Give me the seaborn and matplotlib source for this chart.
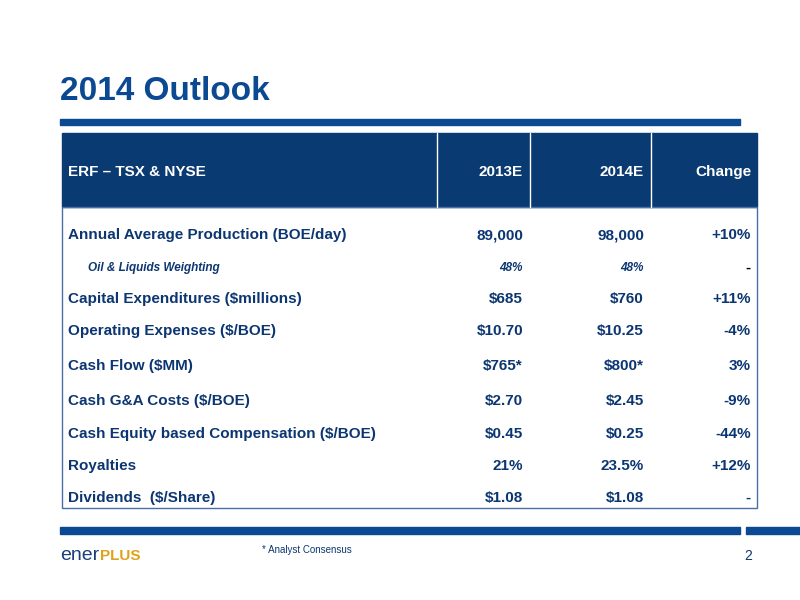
import seaborn as sns
import matplotlib.pyplot as plt
from matplotlib.patches import Rectangle

sns.set_theme(style="white")
plt.rcParams['font.family'] = ['Liberation Sans', 'DejaVu Sans']

# %% data
header = ["ERF \u2013 TSX & NYSE", "2013E", "2014E", "Change"]
labels = ["Annual Average Production (BOE/day)", "Oil & Liquids Weighting",
          "Capital Expenditures ($millions)", "Operating Expenses ($/BOE)",
          "Cash Flow ($MM)", "Cash G&A Costs ($/BOE)",
          "Cash Equity based Compensation ($/BOE)", "Royalties", "Dividends  ($/Share)"]
v2013 = ["89,000", "48%", "$685", "$10.70", "$765*", "$2.70", "$0.45", "21%", "$1.08"]
v2014 = ["98,000", "48%", "$760", "$10.25", "$800*", "$2.45", "$0.25", "23.5%", "$1.08"]
change = ["+10%", "-", "+11%", "-4%", "3%", "-9%", "-44%", "+12%", "-"]
sub_row = [False, True, False, False, False, False, False, False, False]

# %% layout
row_y = [235, 268, 299, 331, 366, 401, 434, 466, 498]
col_x = [523, 644, 751]
navy = "#0A3A72"
blue = "#0B4A92"
text_c = "#0C3672"

fig = plt.figure(figsize=(8, 6), dpi=100)
ax = fig.add_axes([0, 0, 1, 1])
ax.set_xlim(0, 800)
ax.set_ylim(600, 0)
ax.axis("off")

ax.text(60, 91, "2014 Outlook", fontsize=24, fontweight="bold", color=blue, va="center")
ax.add_patch(Rectangle((60, 119), 680, 6, color=blue))

# header block
ax.add_patch(Rectangle((62, 133), 695, 74, color=navy))
for x in [437, 530, 651]:
    ax.plot([x, x], [133, 207], color="white", lw=1)
ax.text(68, 172, header[0], fontsize=11, fontweight="bold", color="white", va="center")
for x, h in zip(col_x, header[1:]):
    ax.text(x, 172, h, fontsize=11, fontweight="bold", color="white", va="center", ha="right")

# body border
ax.add_patch(Rectangle((62, 207), 695, 301, fill=False, edgecolor="#4A6FA5", lw=1))

for y, lab, a, b, c, sub in zip(row_y, labels, v2013, v2014, change, sub_row):
    if sub:
        kw = dict(fontsize=8.5, fontweight="bold", style="italic", color=text_c, va="center")
        ax.text(88, y, lab, **kw)
        ax.text(col_x[0], y, a, ha="right", **kw)
        ax.text(col_x[1], y, b, ha="right", **kw)
        ax.text(col_x[2], y, c, ha="right", fontsize=11, fontweight="bold", color="black", va="center")
    else:
        kw = dict(fontsize=11, fontweight="bold", color=text_c, va="center")
        ax.text(68, y, lab, **kw)
        for x, v in zip(col_x, [a, b, c]):
            ax.text(x, y, v, ha="right", **kw)

# footer
ax.add_patch(Rectangle((60, 527), 680, 7, color=blue))
ax.add_patch(Rectangle((746, 527), 54, 7, color=blue))
ax.text(60, 555, "ener", fontsize=14, color="#1B3F7A", va="center")
ax.text(100, 556, "PLUS", fontsize=11, fontweight="bold", color="#E0A21B", va="center")
ax.text(262, 550, "* Analyst Consensus", fontsize=7, color=text_c, va="center")
ax.text(752, 556, "2", fontsize=10, color=text_c, va="center", ha="right")

sns.despine(ax=ax, left=True, bottom=True)
fig.savefig("out.png", dpi=100)
